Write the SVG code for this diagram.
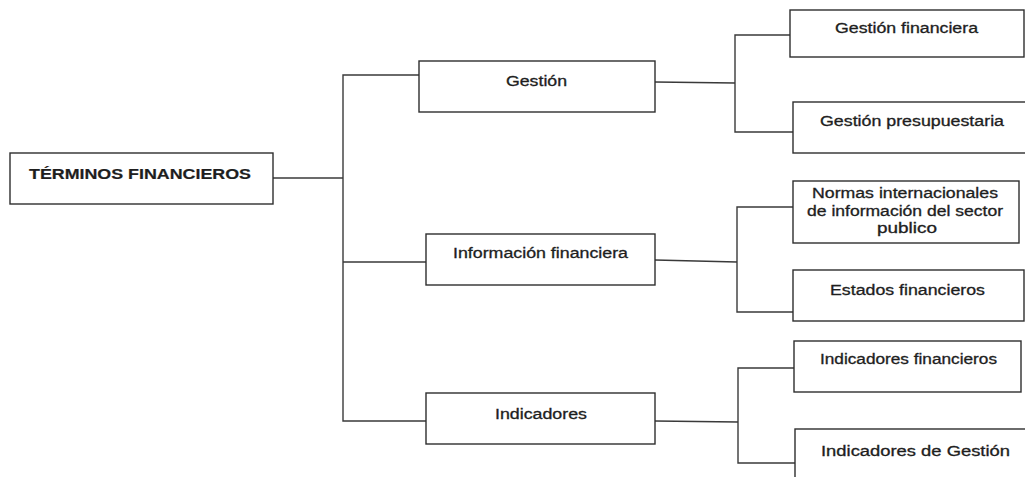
<svg xmlns="http://www.w3.org/2000/svg" width="1025" height="477" viewBox="0 0 1025 477">
  <style>
    .box { fill: #ffffff; stroke: #2e2e2e; stroke-width: 1.4; }
    .conn { fill: none; stroke: #3a3a3a; stroke-width: 1.4; }
    .lbl { font-family: "Liberation Sans", Arial, sans-serif; font-size: 14px; fill: #1e1e1e; stroke: #1e1e1e; stroke-width: 0.3; text-anchor: middle; }
    .root { font-weight: bold; stroke-width: 0.2; }
  </style>
  <rect width="1025" height="477" fill="#ffffff"/>

  <!-- connectors -->
  <g id="connectors">
    <path class="conn" d="M273,178 H343"/>
    <path class="conn" d="M419,75 H343 V421 H426 M343,262 H426"/>
    <path class="conn" d="M655,82 L735,83 M790,35 H735 V132 H793"/>
    <path class="conn" d="M655,260 L737,262 M793,207 H737 V312 H793"/>
    <path class="conn" d="M655,421 L738,422 M794,368 H738 V463 H795"/>
  </g>

  <g id="terminos-financieros">
    <rect class="box" x="10" y="153" width="263" height="51"/>
    <text class="lbl root" x="140" y="179" textLength="222" lengthAdjust="spacingAndGlyphs">TÉRMINOS FINANCIEROS</text>
  </g>

  <g id="gestion">
    <rect class="box" x="419" y="61" width="236" height="51"/>
    <text class="lbl" x="536.5" y="86" textLength="61" lengthAdjust="spacingAndGlyphs">Gestión</text>
  </g>

  <g id="informacion-financiera">
    <rect class="box" x="426" y="234" width="229" height="51"/>
    <text class="lbl" x="540.5" y="258" textLength="175" lengthAdjust="spacingAndGlyphs">Información financiera</text>
  </g>

  <g id="indicadores">
    <rect class="box" x="426" y="393" width="229" height="51"/>
    <text class="lbl" x="541" y="419" textLength="92" lengthAdjust="spacingAndGlyphs">Indicadores</text>
  </g>

  <g id="gestion-financiera">
    <rect class="box" x="790" y="10" width="234" height="47"/>
    <text class="lbl" x="906.5" y="33" textLength="143" lengthAdjust="spacingAndGlyphs">Gestión financiera</text>
  </g>

  <g id="gestion-presupuestaria">
    <rect class="box" x="793" y="102" width="240" height="51"/>
    <text class="lbl" x="912" y="126" textLength="184" lengthAdjust="spacingAndGlyphs">Gestión presupuestaria</text>
  </g>

  <g id="normas-internacionales">
    <rect class="box" x="793" y="181" width="226" height="62"/>
    <text class="lbl" x="905" y="198" textLength="186" lengthAdjust="spacingAndGlyphs">Normas internacionales</text>
    <text class="lbl" x="905" y="216" textLength="196" lengthAdjust="spacingAndGlyphs">de información del sector</text>
    <text class="lbl" x="907" y="233" textLength="60" lengthAdjust="spacingAndGlyphs">publico</text>
  </g>

  <g id="estados-financieros">
    <rect class="box" x="793" y="270" width="231" height="51"/>
    <text class="lbl" x="907.5" y="295" textLength="155" lengthAdjust="spacingAndGlyphs">Estados financieros</text>
  </g>

  <g id="indicadores-financieros">
    <rect class="box" x="794" y="341" width="227" height="51"/>
    <text class="lbl" x="908.5" y="364" textLength="177" lengthAdjust="spacingAndGlyphs">Indicadores financieros</text>
  </g>

  <g id="indicadores-gestion">
    <rect class="box" x="795" y="429" width="240" height="60"/>
    <text class="lbl" x="915.5" y="456" textLength="189" lengthAdjust="spacingAndGlyphs">Indicadores de Gestión</text>
  </g>
</svg>
